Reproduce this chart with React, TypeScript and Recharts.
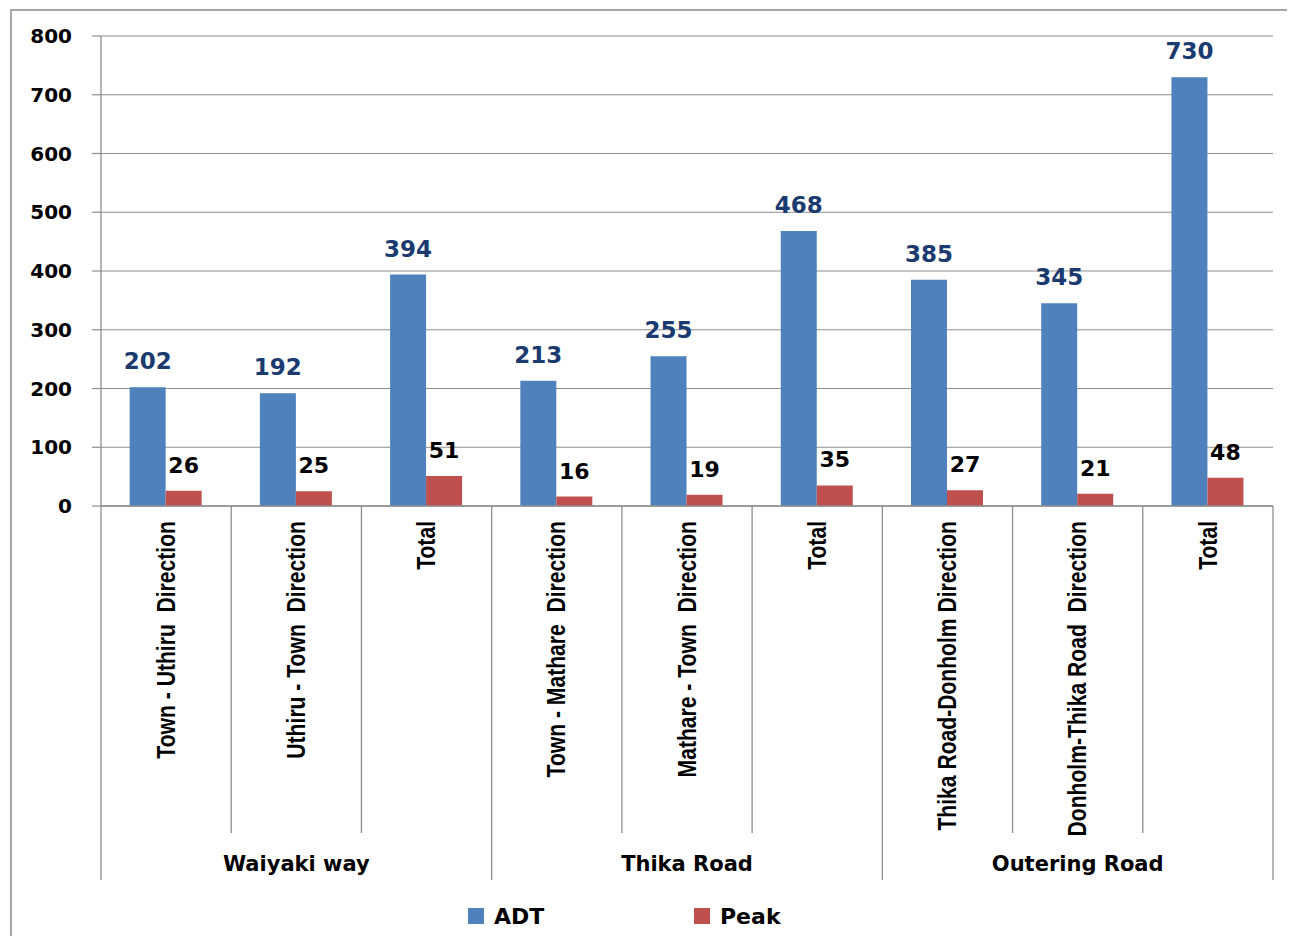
import React from 'react';
import { BarChart, Bar, XAxis, YAxis, CartesianGrid, LabelList } from 'recharts';

const categories = [
  'Town - Uthiru  Direction',
  'Uthiru - Town  Direction',
  'Total',
  'Town - Mathare  Direction',
  'Mathare - Town  Direction',
  'Total',
  'Thika Road-Donholm Direction',
  'Donholm-Thika Road  Direction',
  'Total',
];
const groups = ['Waiyaki way', 'Thika Road', 'Outering Road'];
const adtValues = [202, 192, 394, 213, 255, 468, 385, 345, 730];
const peakValues = [26, 25, 51, 16, 19, 35, 27, 21, 48];
const yTicks = [0, 100, 200, 300, 400, 500, 600, 700, 800];

const data = categories.map((c, i) => ({
  key: 'c' + i,
  label: c,
  ADT: adtValues[i],
  Peak: peakValues[i],
}));

const W = 1279;
const H = 928;
const M = { top: 28, right: 14, left: 0, bottom: 56 };
const Y_W = 93;
const PLOT_W = W - M.left - M.right - Y_W;
const CAT_W = PLOT_W / categories.length;
const X_H = 374;
const GRAY = '#8e8e8e';
const NUM_FONT = '"DejaVu Sans", Verdana, sans-serif';
const NARROW_FONT = '"Liberation Sans", Arial, sans-serif';

const CatTick = (props: any) => {
  const { x, y, payload } = props;
  const i = payload.index as number;
  const left = x - CAT_W / 2;
  const right = x + CAT_W / 2;
  const groupStart = i % 3 === 0;
  const isLast = i === categories.length - 1;
  const ty = y + 15;
  return (
    <g>
      <line x1={left} y1={y} x2={left} y2={y + (groupStart ? X_H : 327)} stroke={GRAY} strokeWidth={1.3} />
      {isLast && <line x1={right} y1={y} x2={right} y2={y + X_H} stroke={GRAY} strokeWidth={1.3} />}
      <g transform={`translate(${x} ${ty}) rotate(-90) scale(0.845 1)`}>
        <text
          x={0}
          y={0}
          textAnchor="end"
          dominantBaseline="central"
          fontFamily={NARROW_FONT}
          fontWeight="bold"
          fontSize={25}
          fill="#000"
          style={{ whiteSpace: 'pre' }}
        >
          {categories[i]}
        </text>
      </g>
      {i % 3 === 1 && (
        <text
          x={x}
          y={y + 365}
          textAnchor="middle"
          fontFamily={NUM_FONT}
          fontWeight="bold"
          fontSize={21}
          fill="#000"
        >
          {groups[Math.floor(i / 3)]}
        </text>
      )}
    </g>
  );
};

const legendItems = [
  { name: 'ADT', color: '#4F81BD', left: 460 },
  { name: 'Peak', color: '#C0504D', left: 686 },
];

export default function App() {
  return (
    <div style={{ position: 'relative', width: W, height: H, overflow: 'hidden', background: '#fff' }}>
      <div
        style={{
          position: 'absolute',
          left: 2,
          top: 1,
          width: 1400,
          height: 1100,
          borderTop: '2px solid #a6a6a6',
          borderLeft: '2px solid #a6a6a6',
        }}
      />
      <div style={{ position: 'absolute', left: 0, top: 0 }}>
        <BarChart width={W} height={H} data={data} margin={M} barCategoryGap="22%" barGap={0}>
          <CartesianGrid vertical={false} stroke={GRAY} strokeWidth={1.2} />
          <XAxis
            dataKey="key"
            interval={0}
            height={X_H}
            tickLine={false}
            tickSize={0}
            tickMargin={0}
            axisLine={{ stroke: GRAY, strokeWidth: 1.3 }}
            tick={<CatTick />}
          />
          <YAxis
            width={Y_W}
            domain={[0, 800]}
            ticks={yTicks}
            interval={0}
            tickSize={9}
            tickMargin={20}
            tickLine={{ stroke: GRAY, strokeWidth: 1.2 }}
            axisLine={{ stroke: GRAY, strokeWidth: 1.3 }}
            tick={{ fontFamily: NUM_FONT, fontWeight: 'bold', fontSize: 20, fill: '#000' }}
          />
          <Bar dataKey="ADT" fill="#4F81BD" isAnimationActive={false}>
            <LabelList
              dataKey="ADT"
              position="top"
              offset={18}
              fill="#1A3A70"
              fontFamily={NUM_FONT}
              fontWeight="bold"
              fontSize={23}
            />
          </Bar>
          <Bar dataKey="Peak" fill="#C0504D" isAnimationActive={false}>
            <LabelList
              dataKey="Peak"
              position="top"
              offset={18}
              fill="#000"
              fontFamily={NUM_FONT}
              fontWeight="bold"
              fontSize={22}
            />
          </Bar>
        </BarChart>
      </div>
      {legendItems.map((it) => (
        <div
          key={it.name}
          style={{
            position: 'absolute',
            left: it.left,
            top: 894,
            height: 28,
            display: 'flex',
            alignItems: 'center',
            fontFamily: NUM_FONT,
            fontWeight: 'bold',
            fontSize: 22,
            color: '#000',
          }}
        >
          <span style={{ display: 'inline-block', width: 16, height: 16, background: it.color, marginRight: 10 }} />
          <span>{it.name}</span>
        </div>
      ))}
    </div>
  );
}
